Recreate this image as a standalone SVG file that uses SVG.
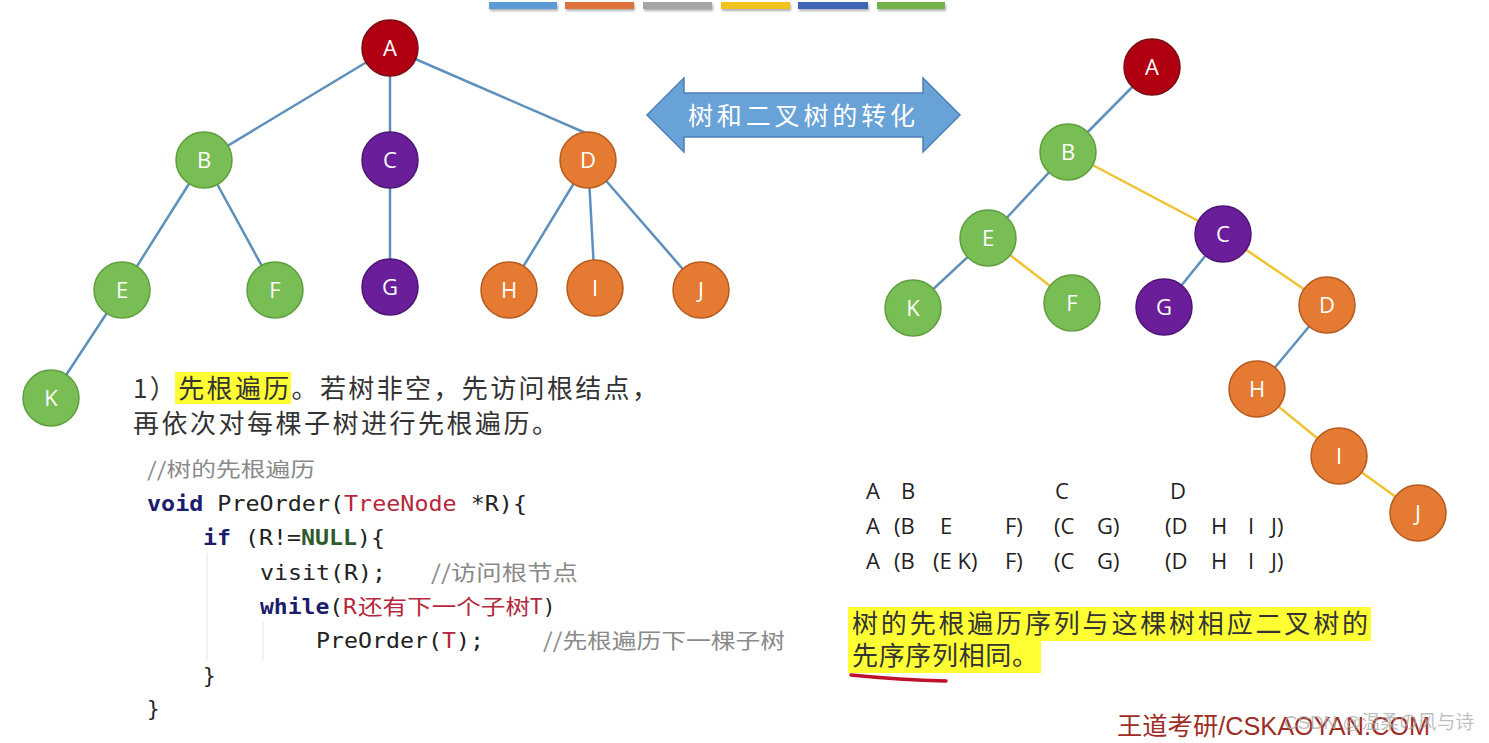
<svg xmlns="http://www.w3.org/2000/svg" width="1489" height="743" viewBox="0 0 1489 743">
<defs>
<style>
.n{stroke-width:1.5}
.red{fill:#B00012;stroke:#7a0a10}
.grn{fill:#79BD55;stroke:#5E9E3E}
.pur{fill:#6A1E9A;stroke:#4E1473}
.org{fill:#E57A33;stroke:#B75A1E}
.lbl{font-family:"Open Sans","Liberation Sans",sans-serif;font-size:22px;fill:#fff;text-anchor:middle}
.eb{stroke:#5E90BC;stroke-width:2.5;fill:none}
.ey{stroke:#EDC233;stroke-width:2.5;fill:none}
.cn{font-family:"Noto Sans CJK SC","Noto Sans CJK JP",sans-serif;fill:#333}
.mono{font-family:"DejaVu Sans Mono","Liberation Mono",monospace;font-size:21px;fill:#222}
.kw{font-weight:bold;fill:#1c1c6e}
.rd{fill:#B5283E}
.gr{fill:#8a8a8a}
.seq{font-family:"Open Sans","Liberation Sans",sans-serif;font-size:22px;fill:#222}
</style>
<filter id="sh" x="-10%" y="-50%" width="120%" height="250%"><feDropShadow dx="1" dy="2" stdDeviation="1" flood-color="#000" flood-opacity="0.3"/></filter>
</defs>
<rect width="1489" height="743" fill="#fff"/>
<g id="colorbars" filter="url(#sh)">
<rect x="489" y="2" width="68" height="7" fill="#5B9BD5"/>
<rect x="565" y="2" width="69" height="7" fill="#E0733A"/>
<rect x="643" y="2" width="69" height="7" fill="#A5A5A5"/>
<rect x="721" y="2" width="69" height="7" fill="#F2C31F"/>
<rect x="798" y="2" width="70" height="7" fill="#3F65B5"/>
<rect x="877" y="2" width="68" height="7" fill="#72B34A"/>
</g>
<g id="connectors">
<line class="eb" x1="390" y1="48" x2="204" y2="160"/>
<line class="eb" x1="390" y1="48" x2="390" y2="160"/>
<line class="eb" x1="390" y1="48" x2="588" y2="134"/>
<line class="eb" x1="204" y1="160" x2="122" y2="290"/>
<line class="eb" x1="204" y1="160" x2="275" y2="290"/>
<line class="eb" x1="390" y1="160" x2="390" y2="287"/>
<line class="eb" x1="588" y1="160" x2="509" y2="290"/>
<line class="eb" x1="588" y1="160" x2="595" y2="288"/>
<line class="eb" x1="588" y1="160" x2="701" y2="290"/>
<line class="eb" x1="122" y1="290" x2="51" y2="398"/>
<line class="eb" x1="1152" y1="67" x2="1068" y2="152"/>
<line class="eb" x1="1068" y1="152" x2="988" y2="238"/>
<line class="ey" x1="1068" y1="152" x2="1223" y2="234"/>
<line class="eb" x1="988" y1="238" x2="913" y2="308"/>
<line class="ey" x1="988" y1="238" x2="1072" y2="303"/>
<line class="eb" x1="1223" y1="234" x2="1164" y2="307"/>
<line class="ey" x1="1223" y1="234" x2="1327" y2="305"/>
<line class="eb" x1="1327" y1="305" x2="1257" y2="389"/>
<line class="ey" x1="1257" y1="389" x2="1339" y2="456"/>
<line class="ey" x1="1339" y1="456" x2="1418" y2="513"/>
</g>
<g id="L_A"><ellipse class="n red" cx="390" cy="48" rx="28" ry="28"/><text class="lbl" x="390" y="56">A</text></g>
<g id="L_B"><ellipse class="n grn" cx="204" cy="160" rx="28" ry="28"/><text class="lbl" x="204" y="168">B</text></g>
<g id="L_C"><ellipse class="n pur" cx="390" cy="160" rx="28" ry="28"/><text class="lbl" x="390" y="168">C</text></g>
<g id="L_D"><ellipse class="n org" cx="588" cy="160" rx="28" ry="28"/><text class="lbl" x="588" y="168">D</text></g>
<g id="L_E"><ellipse class="n grn" cx="122" cy="290" rx="28" ry="28"/><text class="lbl" x="122" y="298">E</text></g>
<g id="L_F"><ellipse class="n grn" cx="275" cy="290" rx="28" ry="28"/><text class="lbl" x="275" y="298">F</text></g>
<g id="L_G"><ellipse class="n pur" cx="390" cy="287" rx="28" ry="28"/><text class="lbl" x="390" y="295">G</text></g>
<g id="L_H"><ellipse class="n org" cx="509" cy="290" rx="28" ry="28"/><text class="lbl" x="509" y="298">H</text></g>
<g id="L_I"><ellipse class="n org" cx="595" cy="288" rx="28" ry="28"/><text class="lbl" x="595" y="296">I</text></g>
<g id="L_J"><ellipse class="n org" cx="701" cy="290" rx="28" ry="28"/><text class="lbl" x="701" y="298">J</text></g>
<g id="L_K"><ellipse class="n grn" cx="51" cy="398" rx="28" ry="28"/><text class="lbl" x="51" y="406">K</text></g>
<g id="R_A"><ellipse class="n red" cx="1152" cy="67" rx="28" ry="28"/><text class="lbl" x="1152" y="75">A</text></g>
<g id="R_B"><ellipse class="n grn" cx="1068" cy="152" rx="28" ry="28"/><text class="lbl" x="1068" y="160">B</text></g>
<g id="R_E"><ellipse class="n grn" cx="988" cy="238" rx="28" ry="28"/><text class="lbl" x="988" y="246">E</text></g>
<g id="R_C"><ellipse class="n pur" cx="1223" cy="234" rx="28" ry="28"/><text class="lbl" x="1223" y="242">C</text></g>
<g id="R_K"><ellipse class="n grn" cx="913" cy="308" rx="28" ry="28"/><text class="lbl" x="913" y="316">K</text></g>
<g id="R_F"><ellipse class="n grn" cx="1072" cy="303" rx="28" ry="28"/><text class="lbl" x="1072" y="311">F</text></g>
<g id="R_G"><ellipse class="n pur" cx="1164" cy="307" rx="28" ry="28"/><text class="lbl" x="1164" y="315">G</text></g>
<g id="R_D"><ellipse class="n org" cx="1327" cy="305" rx="28" ry="28"/><text class="lbl" x="1327" y="313">D</text></g>
<g id="R_H"><ellipse class="n org" cx="1257" cy="389" rx="28" ry="28"/><text class="lbl" x="1257" y="397">H</text></g>
<g id="R_I"><ellipse class="n org" cx="1339" cy="456" rx="28" ry="28"/><text class="lbl" x="1339" y="464">I</text></g>
<g id="R_J"><ellipse class="n org" cx="1418" cy="513" rx="28" ry="28"/><text class="lbl" x="1418" y="521">J</text></g>
<g id="arrow">
<polygon points="647,115 684,78 684,93 923,93 923,78 960,115 923,152 923,137 684,137 684,152" fill="#69A2D6" stroke="#4C80B6" stroke-width="1.5"/>
<text x="688" y="125" font-family="Noto Sans CJK SC,sans-serif" font-size="25" fill="#fff" textLength="227" lengthAdjust="spacing">树和二叉树的转化</text>
</g>
<g id="desc">
<rect x="175" y="372" width="116" height="32" fill="#FFFF33"/>
<text class="cn" x="133" y="398" font-size="26" textLength="525" lengthAdjust="spacing">1）先根遍历。若树非空，先访问根结点，</text>
<text class="cn" x="133" y="433" font-size="26" textLength="425" lengthAdjust="spacing">再依次对每棵子树进行先根遍历。</text>
</g>
<g id="code">
<line x1="207" y1="553" x2="207" y2="660" stroke="#e4e4e4" stroke-width="1"/>
<line x1="263" y1="622" x2="263" y2="660" stroke="#e4e4e4" stroke-width="1"/>
<text class="cn gr" x="147" y="477" font-size="20" textLength="168" lengthAdjust="spacingAndGlyphs">//树的先根遍历</text>
<text class="mono" x="147" y="511" textLength="380" lengthAdjust="spacingAndGlyphs"><tspan class="kw">void</tspan> PreOrder(<tspan class="rd">TreeNode</tspan> *R){</text>
<text class="mono" x="203" y="545" textLength="182" lengthAdjust="spacingAndGlyphs"><tspan class="kw">if</tspan> (R!=<tspan font-weight="bold" fill="#2E5A2E">NULL</tspan>){</text>
<text class="mono" x="260" y="580" textLength="126" lengthAdjust="spacingAndGlyphs">visit(R);</text>
<text class="cn gr" x="431" y="580" font-size="21" textLength="147" lengthAdjust="spacingAndGlyphs">//访问根节点</text>
<text class="mono" x="260" y="614" textLength="97" lengthAdjust="spacingAndGlyphs"><tspan class="kw">while</tspan>(<tspan class="rd">R</tspan></text>
<text class="cn rd" x="358" y="614" font-size="21" textLength="172" lengthAdjust="spacingAndGlyphs">还有下一个子树</text>
<text class="mono rd" x="530" y="614">T<tspan fill="#222">)</tspan></text>
<text class="mono" x="316" y="648" textLength="168" lengthAdjust="spacingAndGlyphs">PreOrder(<tspan class="rd">T</tspan>);</text>
<text class="cn gr" x="543" y="648" font-size="21" textLength="242" lengthAdjust="spacingAndGlyphs">//先根遍历下一棵子树</text>
<text class="mono" x="203" y="683">}</text>
<text class="mono" x="147" y="716">}</text>
</g>
<g id="sequences" class="seq">
<text x="866" y="499">A</text><text x="901" y="499">B</text><text x="1055" y="499">C</text><text x="1170" y="499">D</text>
<text x="866" y="534">A</text><text x="894" y="534">(B</text><text x="940" y="534">E</text><text x="1005" y="534">F)</text><text x="1054" y="534">(C</text><text x="1097" y="534">G)</text><text x="1165" y="534">(D</text><text x="1211" y="534">H</text><text x="1248" y="534">I</text><text x="1271" y="534">J)</text>
<text x="866" y="569">A</text><text x="894" y="569">(B</text><text x="933" y="569">(E K)</text><text x="1005" y="569">F)</text><text x="1054" y="569">(C</text><text x="1097" y="569">G)</text><text x="1165" y="569">(D</text><text x="1211" y="569">H</text><text x="1248" y="569">I</text><text x="1271" y="569">J)</text>
</g>
<g id="conclusion">
<rect x="848" y="607" width="523" height="34" fill="#FFFF33"/>
<rect x="848" y="641" width="193" height="32" fill="#FFFF33"/>
<text class="cn" x="852" y="633" font-size="26" fill="#222" textLength="516" lengthAdjust="spacing">树的先根遍历序列与这棵树相应二叉树的</text>
<text class="cn" x="852" y="665" font-size="26" fill="#222" textLength="186" lengthAdjust="spacing">先序序列相同。</text>
<path d="M851,675 Q900,680 946,681" stroke="#C0102A" stroke-width="3.5" fill="none" stroke-linecap="round"/>
</g>
<g id="watermark">
<text x="1117" y="735" font-family="Liberation Sans,Noto Sans CJK SC,sans-serif" font-size="25" fill="#9E2E25" textLength="313" lengthAdjust="spacingAndGlyphs">王道考研/CSKAOYAN.COM</text>
<text x="1284" y="729" font-family="Liberation Sans,Noto Sans CJK SC,sans-serif" font-size="19" fill="#aaa" fill-opacity="0.75" textLength="190" lengthAdjust="spacingAndGlyphs">CSDN @温柔の风与诗</text>
</g>
</svg>
